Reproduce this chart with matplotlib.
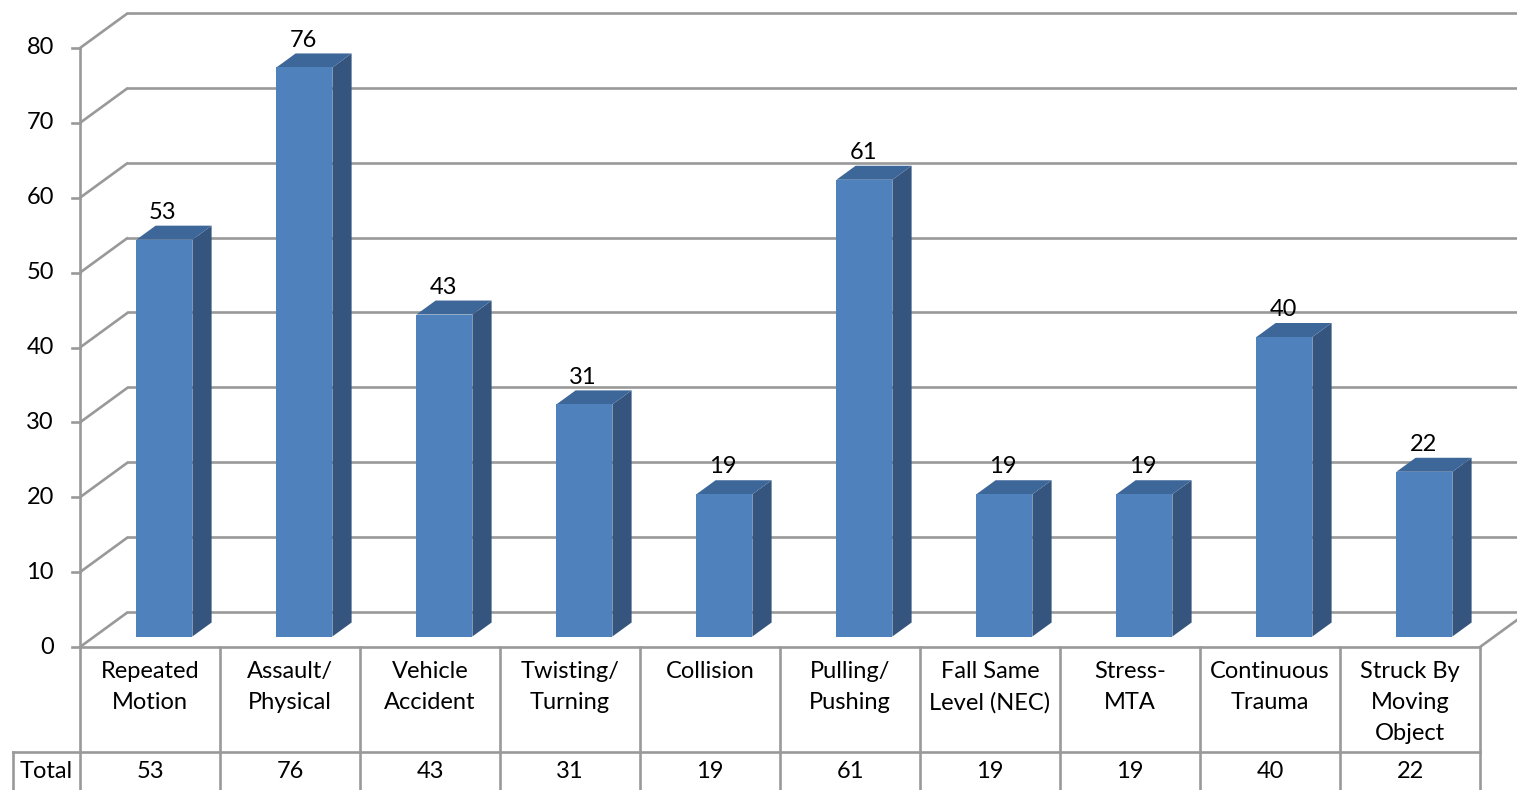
import numpy as np
import matplotlib
matplotlib.use('Agg')
import matplotlib.pyplot as plt
from matplotlib.patches import Polygon
from matplotlib.transforms import blended_transform_factory

# data
categories = ['Repeated\nMotion', 'Assault/\nPhysical', 'Vehicle\nAccident',
              'Twisting/\nTurning', 'Collision', 'Pulling/\nPushing',
              'Fall Same\nLevel (NEC)', 'Stress-\nMTA', 'Continuous\nTrauma',
              'Struck By\nMoving\nObject']
totals = [53, 76, 43, 31, 19, 61, 19, 19, 40, 22]
y_ticks = [0, 10, 20, 30, 40, 50, 60, 70, 80]
row_label = 'Total'

plt.rcParams['font.family'] = ['Lato', 'DejaVu Sans']
W, H = 1517, 790
fs = 17
fig = plt.figure(figsize=(W / 100, H / 100), dpi=100)
# front plane of the 3d box: x 80..1480 px, value 0 at y=647, 80 at y=48
ax = fig.add_axes([80 / W, (H - 647) / H, 1400 / W, 599 / H])
n = len(totals)
ax.set_xlim(0, n)
ax.set_ylim(0, 80)
ax.axis('off')

grey = '#999999'
lw = 1.9
px_per_unit = 599 / 80.0
dx = 48 / 140.0          # depth offset in category units
dy = 35 / px_per_unit    # depth offset in value units
f0, f1 = 0.3, 0.7        # bar depth (front, back) as fraction of box depth
bw = 0.4                 # bar width in category units

# walls and floor
for v in y_ticks:
    ax.plot([0, dx], [v, v + dy], color=grey, lw=lw, clip_on=False, solid_capstyle='butt')
    ax.plot([dx, n + dx + 1], [v + dy, v + dy], color=grey, lw=lw, clip_on=False)
    ax.plot([-8 / 140.0, 0], [v, v], color=grey, lw=lw, clip_on=False)
    ax.text(-26 / 140.0, v, str(v), ha='right', va='center', fontsize=fs)
ax.plot([0, 0], [0, 80], color=grey, lw=lw, clip_on=False)
ax.plot([n, n + dx], [0, dy], color=grey, lw=lw, clip_on=False)

# bars
c_front = '#4f81bd'
c_side = '#35557f'
c_top = '#3d6699'
for i, v in enumerate(totals):
    xl = i + 0.5 - bw / 2
    xr = xl + bw
    front = [(xl + f0 * dx, f0 * dy), (xr + f0 * dx, f0 * dy),
             (xr + f0 * dx, v + f0 * dy), (xl + f0 * dx, v + f0 * dy)]
    side = [(xr + f0 * dx, f0 * dy), (xr + f1 * dx, f1 * dy),
            (xr + f1 * dx, v + f1 * dy), (xr + f0 * dx, v + f0 * dy)]
    top = [(xl + f0 * dx, v + f0 * dy), (xr + f0 * dx, v + f0 * dy),
           (xr + f1 * dx, v + f1 * dy), (xl + f1 * dx, v + f1 * dy)]
    ax.add_patch(Polygon(side, closed=True, fc=c_side, ec='none', zorder=3))
    ax.add_patch(Polygon(top, closed=True, fc=c_top, ec='none', zorder=3))
    ax.add_patch(Polygon(front, closed=True, fc=c_front, ec='none', zorder=4))
    ax.text(i + 0.5 + f0 * dx - 0.01, v + f1 * dy + 0.9, str(v),
            ha='center', va='baseline', fontsize=fs, zorder=5)

# data table below the chart
tr = blended_transform_factory(ax.transData, fig.transFigure)
y_top = (H - 647) / H
y_mid = (H - 752) / H
y_bot = 0.0
x_lab = -67 / 140.0
ax.plot([0, n], [y_top, y_top], color=grey, lw=lw, transform=tr, clip_on=False)
ax.plot([x_lab, n], [y_mid, y_mid], color=grey, lw=lw, transform=tr, clip_on=False)
for k in range(n + 1):
    ax.plot([k, k], [y_top, y_bot], color=grey, lw=lw, transform=tr, clip_on=False)
ax.plot([x_lab, x_lab], [y_mid, y_bot], color=grey, lw=lw, transform=tr, clip_on=False)
for i, (c, v) in enumerate(zip(categories, totals)):
    ax.text(i + 0.5, (H - 661) / H, c, ha='center', va='top', fontsize=fs,
            linespacing=1.6, transform=tr)
    ax.text(i + 0.5, (H - 771) / H, str(v), ha='center', va='center',
            fontsize=fs, transform=tr)
ax.text(x_lab / 2, (H - 771) / H, row_label, ha='center', va='center',
        fontsize=fs, transform=tr)

fig.savefig('out.png', dpi=100)
